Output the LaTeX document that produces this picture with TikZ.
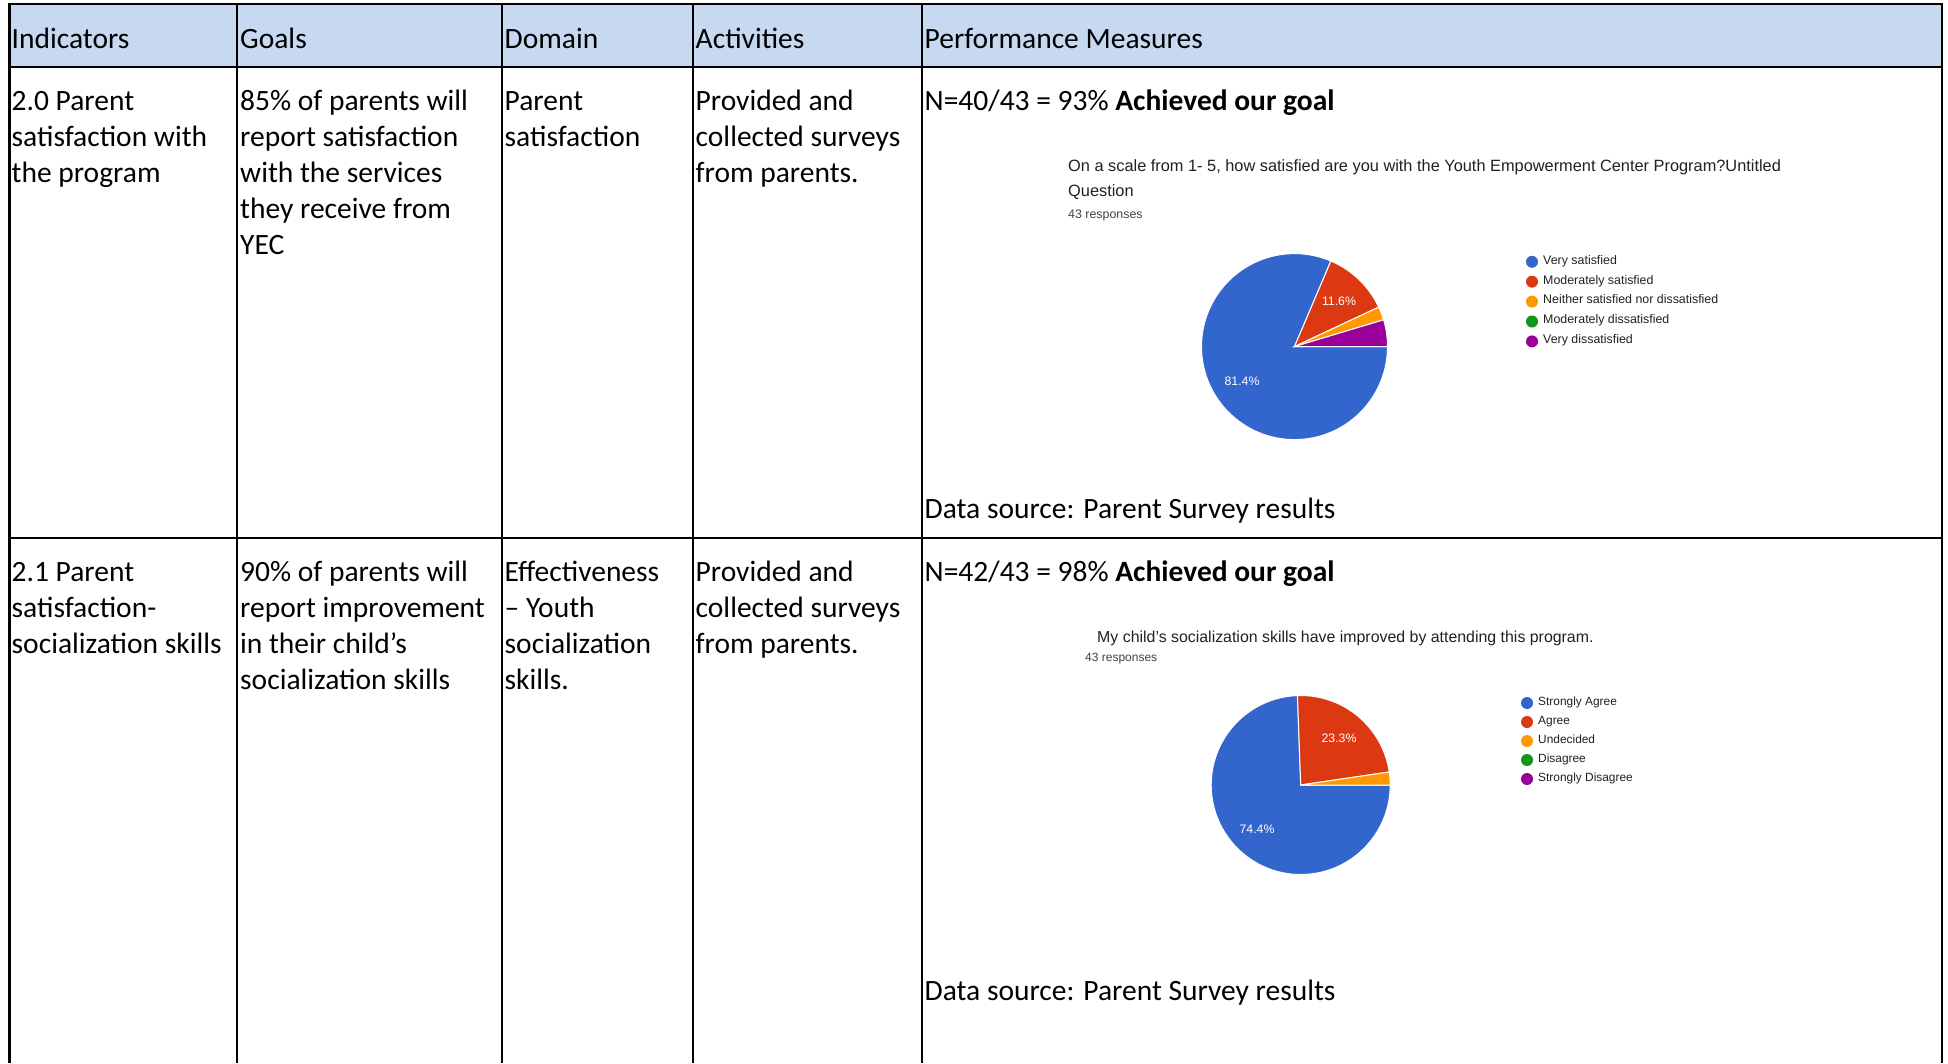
\documentclass[tikz,border=0pt]{standalone}
\usepackage{fontspec}
\setmainfont{Carlito}
\newfontfamily\chartfont{Liberation Sans}
\definecolor{hdr}{RGB}{198,217,241}
\definecolor{gblue}{RGB}{51,102,204}
\definecolor{gred}{RGB}{220,57,18}
\definecolor{gorange}{RGB}{255,153,0}
\definecolor{ggreen}{RGB}{16,150,24}
\definecolor{gpurple}{RGB}{153,0,153}
\definecolor{cdark}{RGB}{33,33,33}
\definecolor{cgray}{RGB}{66,66,66}
\newcommand\celllines[4]{\foreach [count=\i] \t in {#4} {\node[tx] (#1-\i) at (#2,{#3+36*(\i-1)}) {\t};}}
\newcommand\pieslice[5]{\fill[#5, draw=white, line width=1pt] (#1) -- ++(#3:#2) arc[start angle=#3, end angle=#4, radius=#2] -- cycle;}
\begin{document}
\begin{tikzpicture}[x=1pt,y=-1pt,
  tx/.style={anchor=base west, inner sep=0pt, font=\fontsize{29.5}{36}\selectfont},
  gridline/.style={line width=2.2pt, black},
  ctitle/.style={anchor=base west, inner sep=0pt, text=cdark, font=\chartfont\fontsize{16.35}{19}\selectfont},
  cresp/.style={anchor=base west, inner sep=0pt, text=cgray, font=\chartfont\fontsize{12.4}{15}\selectfont},
  leg/.style={anchor=mid west, inner sep=0pt, text=cdark, font=\chartfont\fontsize{12.4}{15}\selectfont},
  pct/.style={inner sep=0pt, text=white, font=\chartfont\fontsize{12.3}{15}\selectfont},
  dot/.style={circle, inner sep=0pt, minimum size=12pt}]
\useasboundingbox (0,0) rectangle (1948,1063);
\fill[white] (0,0) rectangle (1948,1063);
% header fill
\fill[hdr] (9.5,4) rectangle (1942,67);
% grid
\draw[gridline] (9.5,4) -- (1942,4);
\draw[gridline] (9.5,67) -- (1942,67);
\draw[gridline] (9.5,538) -- (1942,538);
\foreach \xx in {9.5,237,502,693,922,1942} {\draw[gridline] (\xx,2.9) -- (\xx,1063);}
% header texts
\node[tx] (h1) at (11.5,48) {Indicators};
\node[tx] (h2) at (240,48) {Goals};
\node[tx] (h3) at (504.5,48) {Domain};
\node[tx] (h4) at (695.5,48) {Activities};
\node[tx] (h5) at (924.5,48) {Performance Measures};
% row 1
\celllines{ra}{11.5}{110.5}{2.0 Parent, satisfaction with, the program}
\celllines{rb}{240}{110.5}{85\% of parents will, report satisfaction, with the services, they receive from, YEC}
\celllines{rc}{504.5}{110.5}{Parent, satisfaction}
\celllines{rd}{695.5}{110.5}{Provided and, collected surveys, from parents.}
\node[tx] (re) at (924.5,110.5) {N=40/43 = 93\% \textbf{Achieved our goal}};
\node[tx] (rs) at (924.5,518) {Data source: Parent Survey results};
% row 2
\celllines{sa}{11.5}{581.5}{2.1 Parent, satisfaction-, socialization skills}
\celllines{sb}{240}{581.5}{90\% of parents will, report improvement, in their child’s, socialization skills}
\celllines{sc}{504.5}{581.5}{Effectiveness, – Youth, socialization, skills.}
\celllines{sd}{695.5}{581.5}{Provided and, collected surveys, from parents.}
\node[tx] (se) at (924.5,581.5) {N=42/43 = 98\% \textbf{Achieved our goal}};
\node[tx] (ss) at (924.5,1000) {Data source: Parent Survey results};
% chart 1
\node[ctitle] (t1a) at (1068,171.5) {On a scale from 1- 5, how satisfied are you with the Youth Empowerment Center Program?Untitled};
\node[ctitle] (t1b) at (1068,196.5) {Question};
\node[cresp] (t1c) at (1068,218.5) {43 responses};
\coordinate (p1) at (1294.5,346.6);
\pieslice{p1}{93}{0}{293.02}{gblue}
\pieslice{p1}{93}{293.02}{334.88}{gred}
\pieslice{p1}{93}{334.88}{343.26}{gorange}
\pieslice{p1}{93}{343.26}{360}{gpurple}
\node[pct] (l1a) at (1339,301) {11.6\%};
\node[pct] (l1b) at (1242,381) {81.4\%};
\foreach [count=\i] \c/\t in {gblue/Very satisfied, gred/Moderately satisfied, gorange/Neither satisfied nor dissatisfied, ggreen/Moderately dissatisfied, gpurple/Very dissatisfied} {
  \node[dot, fill=\c] (d1-\i) at (1532,{261.8+19.9*(\i-1)}) {};
  \node[leg] (g1-\i) at (1543,{261.8+19.9*(\i-1)}) {\t};
}
% chart 2
\node[ctitle, font=\chartfont\fontsize{15.9}{19}\selectfont] (t2a) at (1097,642) {My child’s socialization skills have improved by attending this program.};
\node[cresp, font=\chartfont\fontsize{12}{15}\selectfont] (t2c) at (1085,661.5) {43 responses};
\coordinate (p2) at (1300.7,785);
\pieslice{p2}{89.5}{0}{267.91}{gblue}
\pieslice{p2}{89.5}{267.91}{351.63}{gred}
\pieslice{p2}{89.5}{351.63}{360}{gorange}
\node[pct] (l2a) at (1339,738) {23.3\%};
\node[pct] (l2b) at (1257,829) {74.4\%};
\foreach [count=\i] \c/\t in {gblue/Strongly Agree, gred/Agree, gorange/Undecided, ggreen/Disagree, gpurple/Strongly Disagree} {
  \node[dot, fill=\c] (d2-\i) at (1527,{703+19*(\i-1)}) {};
  \node[leg, font=\chartfont\fontsize{11.9}{15}\selectfont] (g2-\i) at (1538,{703+19*(\i-1)}) {\t};
}
\end{tikzpicture}
\end{document}
